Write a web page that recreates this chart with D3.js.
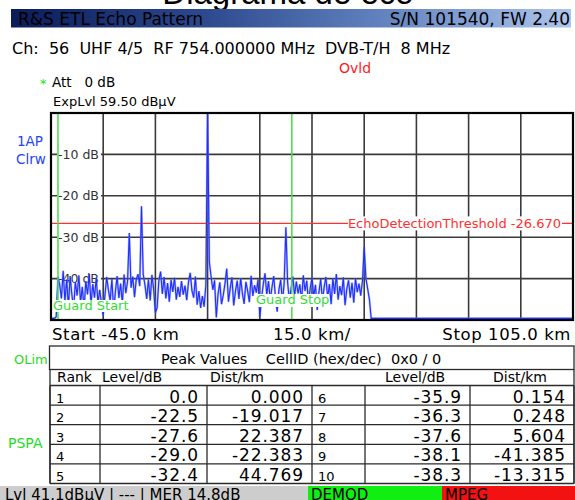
<!DOCTYPE html>
<html><head><meta charset="utf-8">
<script src="https://cdn.jsdelivr.net/npm/d3@7/dist/d3.min.js"></script>
<style>
html,body{margin:0;padding:0;background:#fff;overflow:hidden;}
svg text{font-family:"DejaVu Sans",Verdana,sans-serif;white-space:pre;}
</style></head><body>
<svg id="c" width="575" height="500"></svg>
<script>
// ---------- data ----------
const traceStartKm = -45, traceStepKm = 0.5;
const traceDb = [
 -49.6,-49.6,-49.6,-49.2,-39.6,-41.5,-44.8,-38.1,-45.5,-40.2,
 -46.8,-39.4,-43.9,-47.2,-40.8,-44.1,-39.2,-45.7,-42.0,-47.5,
 -40.6,-43.8,-38.9,-46.2,-41.3,-44.6,-39.8,-45.9,-42.7,-46.1,
 -48.9,-44.0,-39.6,-42.8,-45.3,-40.1,-47.9,-43.2,-39.4,-44.7,
 -41.2,-46.0,-39.0,-43.5,-40.7,-29.0,-42.2,-39.5,-44.5,-40.2,
 -38.9,-41.8,-22.5,-39.0,-41.5,-44.9,-40.2,-45.3,-39.1,-42.6,
 -48.2,-47.0,-40.4,-38.3,-43.7,-39.6,-44.8,-41.1,-45.6,-40.3,
 -43.2,-39.8,-45.1,-42.0,-44.4,-40.6,-43.9,-41.7,-45.2,-40.9,
 -38.6,-42.9,-44.6,-39.5,-46.3,-43.0,-47.1,-44.2,-46.8,-41.5,
   0.0,-36.0,-39.5,-42.7,-40.4,-49.4,-43.8,-40.9,-46.2,-44.0,
 -41.2,-37.6,-45.6,-42.3,-39.7,-46.5,-43.1,-40.5,-44.9,-39.9,
 -43.6,-46.1,-40.8,-42.9,-45.7,-39.3,-44.2,-41.6,-43.4,-40.2,
 -49.4,-44.8,-41.3,-38.7,-43.9,-40.6,-45.2,-42.1,-39.4,-44.5,
 -48.0,-42.6,-40.3,-45.8,-41.1,-27.6,-41.0,-45.2,-42.4,-39.5,
 -44.1,-40.7,-43.6,-41.4,-45.4,-39.2,-43.0,-40.5,-46.0,-42.2,
 -39.8,-44.3,-41.5,-47.6,-43.2,-40.1,-45.5,-42.0,-39.6,-44.7,
 -41.3,-46.2,-40.0,-43.7,-38.9,-45.1,-41.8,-44.0,-39.7,-46.4,
 -42.5,-40.4,-44.6,-41.0,-45.8,-39.9,-43.3,-41.2,-44.1,-40.6,
 -32.4,-40.0,-42.5,-45.0,-49.6
];
const traceTail = [[47.5,-49.6],[105,-49.6]];
const xDomainKm = [-45, 105];
const yDomainDb = [0, -50];
const xGridKm = [-30,-15,0,15,30,45,60,75,90];
const yTickDb = [-10,-20,-30,-40];
const thresholdDb = -26.67;
const guardStartKm = -43.0, guardStopKm = 24.2;
const ranksLeft = [1,2,3,4,5];
const levelsLeft = [0.0,-22.5,-27.6,-29.0,-32.4];
const distLeft = [0.000,-19.017,22.387,-22.383,44.769];
const ranksRight = [6,7,8,9,10];
const levelsRight = [-35.9,-36.3,-37.6,-38.1,-38.3];
const distRight = [0.154,0.248,5.604,-41.385,-13.315];

// ---------- drawing ----------
const svg = d3.select("#c");
const defs = svg.append("defs");
const g1 = defs.append("linearGradient").attr("id","hdr").attr("x1","0").attr("x2","1").attr("y1","0").attr("y2","0");
[["0%","#0b1c5a"],["35%","#2d4a8e"],["65%","#5f80bd"],["100%","#adc5ec"]].forEach(s=>g1.append("stop").attr("offset",s[0]).attr("stop-color",s[1]));

// title (cut)
svg.append("text").attr("x",288).attr("y",4).attr("text-anchor","middle")
  .style("font-family","'Liberation Sans',Arial,sans-serif").style("font-size","33px").text("Diagrama de eco");

// header bar
svg.append("rect").attr("x",11).attr("y",9).attr("width",560).attr("height",18.5).attr("fill","url(#hdr)");
svg.append("text").attr("x",18).attr("y",25).style("font-size","17px").attr("fill","#000").text("R&S ETL Echo Pattern");
svg.append("text").attr("x",570).attr("y",25).attr("text-anchor","end").style("font-size","17px").attr("fill","#000").text("S/N 101540, FW 2.40");

svg.append("text").attr("x",12).attr("y",54).style("font-size","16px").text("Ch:  56  UHF 4/5  RF 754.000000 MHz  DVB-T/H  8 MHz");
svg.append("text").attr("x",339).attr("y",73).style("font-size","14px").attr("fill","#ff2020").text("Ovld");

svg.append("text").attr("x",40).attr("y",88).style("font-size","13px").attr("fill","#22dd22").text("*");
svg.append("text").attr("x",52).attr("y",87).style("font-size","13.5px").text("Att   0 dB");
svg.append("text").attr("x",53).attr("y",106).style("font-size","13px").text("ExpLvl 59.50 dBµV");
svg.append("text").attr("x",17).attr("y",146).style("font-size","13.5px").attr("fill","#2244ff").text("1AP");
svg.append("text").attr("x",16).attr("y",164).style("font-size","13.5px").attr("fill","#2244ff").text("Clrw");

// plot
const L=51, R=573, T=113, B=320;
const x = d3.scaleLinear().domain(xDomainKm).range([L,R]);
const y = d3.scaleLinear().domain(yDomainDb).range([T,B]);
const plot = svg.append("g");
plot.selectAll("line.vg").data(xGridKm).join("line").attr("class","vg")
  .attr("x1",d=>x(d)).attr("x2",d=>x(d)).attr("y1",T).attr("y2",B)
  .attr("stroke","#3a3a3a").attr("stroke-width",1.6);
plot.selectAll("line.hg").data(yTickDb).join("line").attr("class","hg")
  .attr("x1",L).attr("x2",R).attr("y1",d=>y(d)).attr("y2",d=>y(d))
  .attr("stroke","#3a3a3a").attr("stroke-width",1.6);
// y labels with white background
const yl = plot.selectAll("g.yl").data(yTickDb).join("g").attr("class","yl");
yl.append("rect").attr("x",57).attr("y",d=>y(d)-7).attr("width",44).attr("height",14).attr("fill","#fff");
yl.append("text").attr("x",58).attr("y",d=>y(d)).attr("dy","0.36em").style("font-size","12.5px").attr("fill","#333")
  .text(d=>d+" dB");
// threshold
plot.append("line").attr("x1",L).attr("x2",R).attr("y1",y(thresholdDb)).attr("y2",y(thresholdDb))
  .attr("stroke","#ff3030").attr("stroke-width",1.3);
plot.append("rect").attr("x",348).attr("y",y(thresholdDb)-7).attr("width",214).attr("height",14).attr("fill","#fff");
plot.append("text").attr("x",561).attr("y",y(thresholdDb)).attr("dy","0.36em").attr("text-anchor","end")
  .style("font-size","13px").attr("fill","#ff3030").text("EchoDetectionThreshold "+thresholdDb.toFixed(3));
// trace
const pts = traceDb.map((d,i)=>[traceStartKm+i*traceStepKm,d]).concat(traceTail);
const line = d3.line().x(d=>x(d[0])).y(d=>y(d[1]));
plot.append("path").attr("d",line(pts)).attr("fill","none").attr("stroke","#7080ff").attr("stroke-width",2.2).attr("opacity",0.55);
plot.append("path").attr("d",line(pts)).attr("fill","none").attr("stroke","#1f2fff").attr("stroke-width",1.1);
// guard lines
[guardStartKm,guardStopKm].forEach(k=>{
  plot.append("line").attr("x1",x(k)).attr("x2",x(k)).attr("y1",T).attr("y2",B).attr("stroke","#44dd44").attr("stroke-width",1.5);
});
plot.append("rect").attr("x",53).attr("y",300).attr("width",75).attr("height",12).attr("fill","#fff");
plot.append("text").attr("x",53).attr("y",310).style("font-size","13px").attr("fill","#33dd33").text("Guard Start");
plot.append("rect").attr("x",255).attr("y",294).attr("width",74).attr("height",13).attr("fill","#fff");
plot.append("text").attr("x",256).attr("y",304).style("font-size","13px").attr("fill","#33dd33").text("Guard Stop");
// border
plot.append("rect").attr("x",L).attr("y",T).attr("width",R-L).attr("height",B-T).attr("fill","none").attr("stroke","#000").attr("stroke-width",2.2);

// span labels
svg.append("text").attr("x",52).attr("y",340).style("font-size","16.5px").style("letter-spacing","0.6px").text("Start -45.0 km");
svg.append("text").attr("x",273).attr("y",340).style("font-size","16.5px").style("letter-spacing","0.6px").text("15.0 km/");
svg.append("text").attr("x",571).attr("y",340).attr("text-anchor","end").style("font-size","16.5px").style("letter-spacing","0.6px").text("Stop 105.0 km");

// table
svg.append("text").attr("x",14).attr("y",364).style("font-size","13px").attr("fill","#22dd22").text("OLim");
svg.append("text").attr("x",8).attr("y",448).style("font-size","14px").attr("fill","#22dd22").text("PSPA");
const tb = svg.append("g").attr("stroke","#2a2a2a").attr("stroke-width",1.3);
tb.append("rect").attr("x",49.5).attr("y",346).attr("width",524.5).attr("height",23.5).attr("fill","none");
svg.append("text").attr("x",161).attr("y",364).style("font-size","14.5px").text("Peak Values    CellID (hex/dec)  0x0 / 0");
const rowTop=385.5, rowH=19.6, nRows=5;
const colX=[50,100,207,312,365,470,574];
tb.append("line").attr("x1",50).attr("x2",50).attr("y1",369.5).attr("y2",rowTop+nRows*rowH);
tb.append("line").attr("x1",574).attr("x2",574).attr("y1",369.5).attr("y2",rowTop+nRows*rowH);
d3.range(nRows+1).forEach(i=>tb.append("line").attr("x1",50).attr("x2",574).attr("y1",rowTop+i*rowH).attr("y2",rowTop+i*rowH));
colX.forEach(cx=>tb.append("line").attr("x1",cx).attr("x2",cx).attr("y1",rowTop).attr("y2",rowTop+nRows*rowH));
const hdrs=[[57,"Rank"],[102,"Level/dB"],[210,"Dist/km"],[385,"Level/dB"],[493,"Dist/km"]];
hdrs.forEach(h=>svg.append("text").attr("x",h[0]).attr("y",382).style("font-size","14px").text(h[1]));
function rows(ranks,levels,dists,rx,lx,dx){
  ranks.forEach((r,i)=>{
    const by=rowTop+(i+1)*rowH-2.5;
    svg.append("text").attr("x",rx).attr("y",by).style("font-size","13px").text(r);
    svg.append("text").attr("x",lx).attr("y",by).attr("text-anchor","end").style("font-size","17px").style("letter-spacing","0.9px").text(levels[i].toFixed(1));
    svg.append("text").attr("x",dx).attr("y",by).attr("text-anchor","end").style("font-size","17px").style("letter-spacing","0.9px").text(dists[i].toFixed(3));
  });
}
rows(ranksLeft,levelsLeft,distLeft,56,199,304);
rows(ranksRight,levelsRight,distRight,318,462,566);

// status bar
svg.append("rect").attr("x",0).attr("y",486).attr("width",308).attr("height",14).attr("fill","#cdcdcd");
svg.append("rect").attr("x",308).attr("y",486).attr("width",134).attr("height",14).attr("fill","#11ee11");
svg.append("rect").attr("x",442).attr("y",486).attr("width",133).attr("height",14).attr("fill","#f21212");
svg.append("text").attr("x",5).attr("y",500).style("font-size","15px").text("Lvl 41.1dBµV | --- | MER 14.8dB");
svg.append("text").attr("x",311).attr("y",500).style("font-size","15px").text("DEMOD");
svg.append("text").attr("x",445).attr("y",500).style("font-size","15px").text("MPEG");
</script>
</body></html>
